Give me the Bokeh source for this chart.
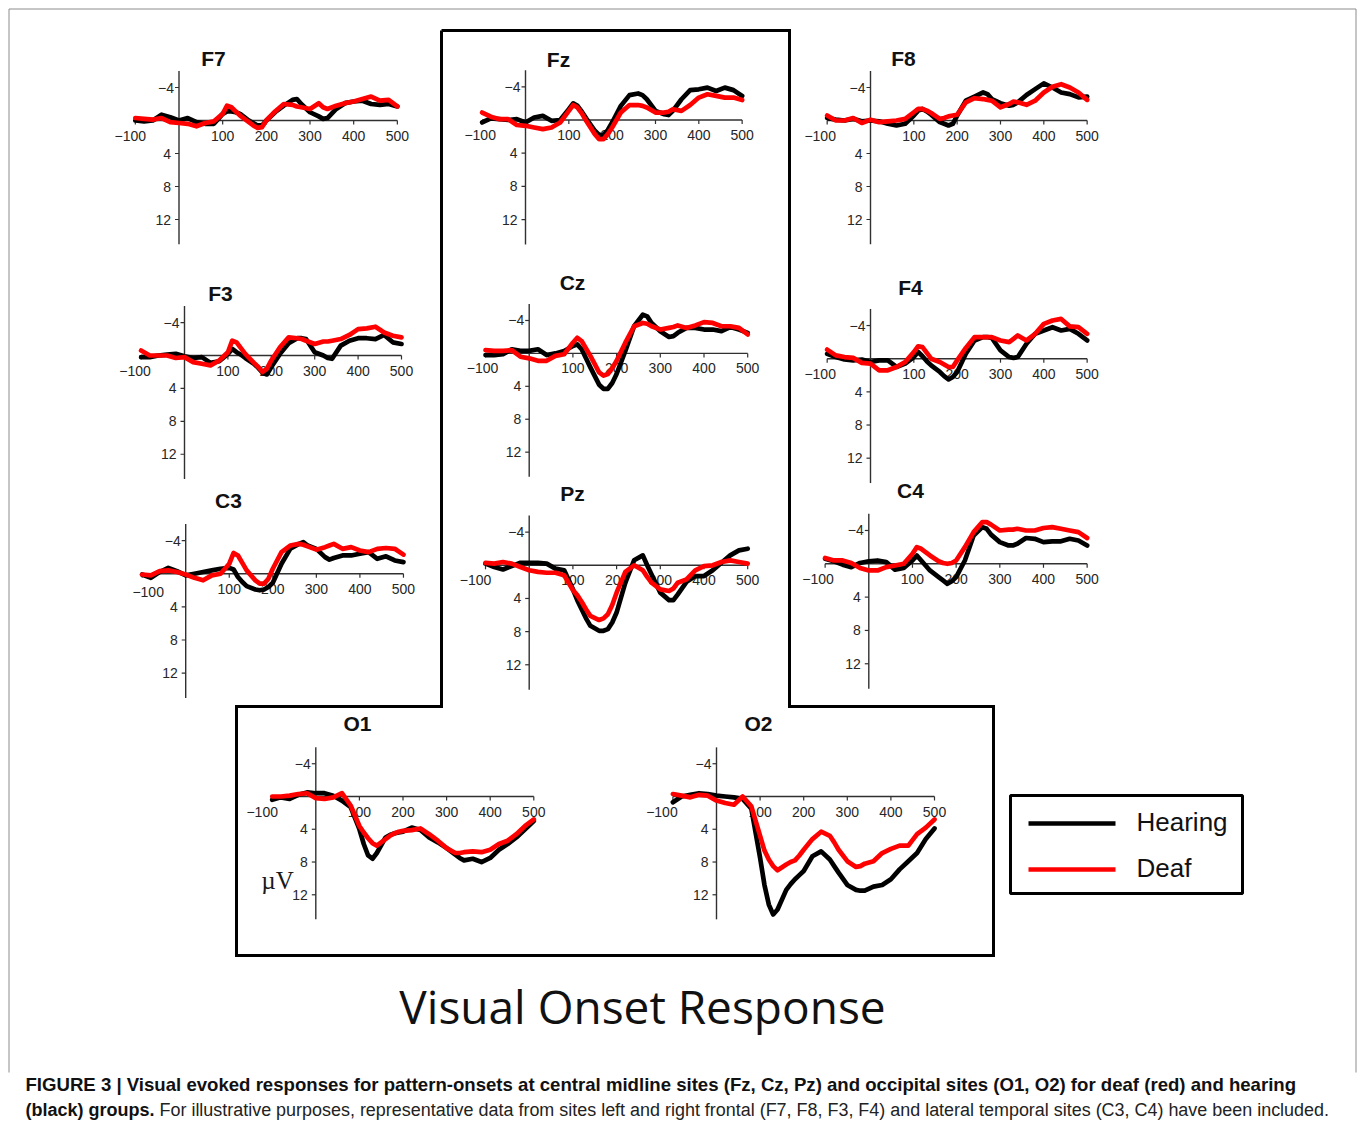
from bokeh.plotting import figure
from bokeh.models import Range1d
from bokeh.embed import file_html
from bokeh.resources import INLINE
from bokeh.core.properties import value

# ---------------- data (µV, positive plotted downward) ----------------
TIME_MS = [-100, -80, -60, -40, -20, 0, 20, 40, 60, 80,
           100, 110, 120, 130, 140, 160, 170, 180, 190, 200,
           220, 240, 260, 270, 280, 300, 320, 330, 340, 360,
           380, 400, 420, 440, 460, 480, 500]

F7_HEARING = [0, 0.1, 0, -0.7, -0.4, 0, -0.3, 0.2, 0.4, 0.4,
              -0.8, -1.1, -1.1, -1.0, -0.8, 0, 0.3, 0.6, 0.6, 0.0,
              -1.0, -1.8, -2.5, -2.6, -2.0, -1.0, -0.5, -0.2, -0.3, -1.4,
              -2.1, -2.3, -2.4, -2.0, -1.9, -2.0, -1.7]
F7_DEAF = [-0.3, -0.2, -0.1, -0.3, 0.2, 0.3, 0.4, 0.7, 0.3, 0.1,
           -0.8, -1.8, -1.6, -1.1, -0.6, 0.2, 0.6, 0.9, 0.8, 0.0,
           -1.1, -2.0, -1.9, -1.7, -1.6, -1.4, -2.1, -1.6, -1.4, -1.8,
           -2.1, -2.3, -2.6, -2.9, -2.4, -2.5, -1.7]

FZ_HEARING = [0.3, -0.2, -0.1, 0, -0.1, 0.3, -0.3, -0.5, 0.1, 0,
              -1.3, -2.0, -1.7, -1.0, -0.2, 1.3, 1.8, 1.8, 1.2, 0.3,
              -1.7, -3.0, -3.2, -3.0, -2.5, -1.1, -0.7, -0.6, -1.1, -2.5,
              -3.6, -3.7, -3.9, -3.5, -3.9, -3.6, -2.9]
FZ_DEAF = [-0.9, -0.4, -0.1, -0.1, 0.6, 0.7, 0.9, 1.1, 0.9, 0.3,
           -1.1, -1.8, -1.5, -0.8, 0.1, 1.7, 2.3, 2.3, 1.7, 0.9,
           -0.9, -1.8, -1.8, -1.7, -1.5, -0.9, -0.9, -1.0, -1.3, -1.1,
           -1.8, -2.7, -3.1, -2.9, -2.7, -2.7, -2.4]

F8_HEARING = [-0.3, -0.1, 0, -0.2, 0.1, 0, 0.1, 0.4, 0.6, 0.4,
              -0.6, -1.2, -1.4, -1.1, -0.7, 0.2, 0.4, 0.6, 0.4, -0.6,
              -2.4, -2.9, -3.4, -3.2, -2.6, -2.1, -1.8, -1.9, -2.2, -3.1,
              -3.8, -4.5, -4.0, -3.4, -3.2, -2.8, -2.9]
F8_DEAF = [-0.6, 0, 0, -0.3, 0.3, -0.1, 0.2, 0.1, 0, -0.2,
           -1.0, -1.4, -1.4, -1.2, -0.9, -0.2, -0.3, -0.5, -0.6, -0.7,
           -2.2, -2.7, -2.6, -2.5, -2.4, -1.6, -2.0, -2.3, -2.2, -1.9,
           -2.4, -3.4, -4.1, -4.4, -4.0, -3.4, -2.5]

F3_HEARING = [0.2, 0.2, 0, -0.1, -0.2, 0.1, 0.3, 0.2, 0.9, 0.7,
              -0.2, -0.8, -0.4, -0.1, 0.3, 1.0, 1.5, 2.1, 2.3, 1.4,
              -0.2, -1.5, -2.1, -2.1, -2.0, -0.4, 0, 0.3, 0.4, -1.2,
              -1.8, -2.1, -2.1, -2.0, -2.5, -1.6, -1.4]
F3_DEAF = [-0.6, 0, 0, 0, 0.3, 0.2, 0.8, 1.0, 1.2, 0.6,
           -0.4, -1.8, -1.6, -0.9, -0.2, 0.9, 1.4, 2.0, 1.6, 0.6,
           -1.0, -2.2, -2.1, -2.0, -1.8, -1.4, -1.7, -1.7, -1.8, -2.0,
           -2.5, -3.2, -3.3, -3.5, -2.8, -2.4, -2.2]

CZ_HEARING = [0.2, 0.2, 0.1, -0.5, -0.3, -0.3, -0.5, 0.2, 0, -0.3,
              -0.9, -1.1, -0.5, 0.6, 1.7, 3.8, 4.3, 4.3, 3.6, 2.5,
              -0.3, -3.3, -4.7, -4.5, -3.7, -2.7, -2.0, -2.1, -2.5, -3.1,
              -3.1, -2.9, -2.9, -2.7, -3.2, -2.9, -2.5]
CZ_DEAF = [-0.4, -0.3, -0.3, -0.4, 0.4, 0.6, 0.9, 0.9, 0.3, 0.1,
           -1.3, -1.9, -1.5, -0.6, 0.3, 2.3, 2.7, 2.5, 1.8, 0.9,
           -1.3, -3.3, -3.7, -3.6, -3.3, -2.9, -3.1, -3.2, -3.4, -3.1,
           -3.4, -3.8, -3.7, -3.3, -3.3, -3.1, -2.3]

F4_HEARING = [-0.6, -0.2, 0.1, 0.2, 0.1, 0.4, 0.2, 0.2, 1.0, 0.6,
              -0.2, -0.8, -0.3, 0.3, 0.8, 1.6, 2.1, 2.5, 2.2, 1.6,
              -0.6, -2.2, -2.6, -2.6, -2.5, -1.0, -0.2, -0.1, -0.2, -1.8,
              -3.0, -3.4, -3.8, -3.4, -3.6, -3.0, -2.2]
F4_DEAF = [-1.1, -0.4, -0.2, -0.1, 0.5, 0.6, 1.4, 1.4, 1.0, 0.4,
           -0.8, -1.5, -1.4, -0.7, 0, 0.4, 0.7, 1.0, 1.0, 0.2,
           -1.3, -2.6, -2.6, -2.6, -2.6, -2.2, -2.0, -2.4, -2.8, -2.2,
           -3.0, -4.2, -4.6, -4.8, -3.9, -3.8, -3.0]

C3_HEARING = [0.1, 0.5, -0.2, -0.7, -0.3, 0.2, 0, -0.2, -0.4, -0.6,
              -0.7, -0.5, 0.4, 1.0, 1.5, 1.9, 2.0, 1.9, 1.6, 1.1,
              -1.2, -3.0, -3.6, -3.8, -3.4, -3.0, -2.0, -1.7, -1.9, -2.2,
              -2.2, -2.4, -2.6, -1.8, -2.1, -1.6, -1.4]
C3_DEAF = [0.1, 0.2, -0.3, -0.4, -0.2, 0.1, 0.5, 0.8, 0.2, 0,
           -1.2, -2.5, -2.2, -1.3, -0.4, 0.8, 1.2, 1.2, 0.6, -0.6,
           -2.6, -3.4, -3.6, -3.5, -3.3, -2.9, -3.2, -3.4, -3.6, -3.0,
           -3.2, -2.8, -2.6, -3.0, -3.1, -3.0, -2.3]

PZ_HEARING = [-0.2, 0.2, 0.5, 0.1, -0.3, -0.3, -0.3, -0.2, 0.4, 0.6,
              2.9, 4.2, 5.3, 6.4, 7.3, 7.9, 7.9, 7.7, 6.9, 5.7,
              2.1, -0.6, -1.2, 0.0, 1.1, 3.3, 4.2, 4.2, 3.5, 2.0,
              1.3, 1.3, 0.6, -0.3, -1.2, -1.8, -2.0]
PZ_DEAF = [-0.3, -0.2, -0.4, -0.2, 0.2, 0.6, 0.8, 0.9, 0.9, 1.2,
           3.0, 3.6, 4.4, 5.3, 6.1, 6.6, 6.4, 5.9, 4.8, 3.3,
           0.8, 0.0, 0.6, 1.4, 2.1, 2.9, 3.1, 2.8, 2.1, 1.7,
           0.6, 0.1, 0.0, -0.4, -0.6, -0.4, -0.2]

C4_HEARING = [-0.6, -0.3, 0.1, 0.4, -0.1, -0.3, -0.4, -0.2, 0.7, 0.5,
              -0.4, -1.0, -0.4, 0.2, 0.8, 1.6, 2.0, 2.4, 2.1, 1.6,
              -0.4, -3.4, -4.4, -4.2, -3.5, -2.6, -2.2, -2.2, -2.4, -3.1,
              -3.0, -2.6, -2.7, -2.7, -3.0, -2.8, -2.2]
C4_DEAF = [-0.7, -0.4, -0.4, -0.1, 0.5, 0.8, 0.8, 0.4, 0.2, 0,
           -1.2, -2.0, -1.8, -1.4, -1.0, -0.3, -0.1, 0, -0.1, -0.4,
           -2.0, -3.8, -5.0, -5.0, -4.7, -4.0, -4.1, -4.1, -4.2, -4.0,
           -4.0, -4.3, -4.4, -4.2, -4.0, -3.8, -3.1]

O1_HEARING = [0.4, 0.1, 0.3, -0.2, -0.5, -0.4, -0.4, -0.1, 0.5, 1.3,
              4.0, 5.8, 7.2, 7.6, 6.9, 5.0, 4.7, 4.5, 4.4, 4.3,
              3.8, 4.1, 5.0, 5.3, 5.6, 6.3, 7.1, 7.5, 7.8, 7.6,
              8.0, 7.5, 6.5, 5.8, 5.0, 4.0, 3.0]
O1_DEAF = [0, 0, -0.1, -0.3, -0.4, 0.2, 0.3, 0.1, -0.4, 1.1,
           3.6, 4.4, 5.1, 5.7, 6.0, 5.2, 4.8, 4.5, 4.3, 4.2,
           4.1, 3.9, 4.6, 5.0, 5.4, 6.3, 6.9, 6.9, 6.8, 6.7,
           6.8, 6.5, 5.8, 5.4, 4.6, 3.6, 2.8]

O2_HEARING = [0.7, 0, -0.2, -0.4, -0.3, -0.1, 0, 0.1, 0.3, 1.5,
              7.5, 10.8, 13.2, 14.4, 13.8, 11.4, 10.7, 10.1, 9.6, 9.1,
              7.3, 6.7, 7.7, 8.5, 9.3, 10.8, 11.4, 11.5, 11.5, 11.0,
              10.8, 10.1, 8.9, 7.9, 6.9, 5.2, 3.9]
O2_DEAF = [-0.3, -0.1, 0.1, -0.2, -0.1, 0.5, 0.8, 1.0, 0.0, 1.2,
           4.8, 6.6, 7.7, 8.5, 9.0, 8.3, 8.0, 7.8, 7.2, 6.5,
           5.2, 4.3, 4.8, 5.6, 6.5, 7.9, 8.6, 8.5, 8.2, 7.9,
           6.9, 6.4, 6.0, 6.0, 4.6, 3.8, 2.8]

X_TICKS = [-100, 100, 200, 300, 400, 500]
X_TICK_LABELS = ["\u2212100", "100", "200", "300", "400", "500"]
Y_TICKS = [-4, 4, 8, 12]
Y_TICK_LABELS = ["\u22124", "4", "8", "12"]
X_AXIS_SPAN = [-100, 500]
Y_AXIS_SPAN = [-6, 15]
GROUPS = ["Hearing", "Deaf"]
GROUP_COLORS = ["#000000", "#ff0000"]

PANELS = [
    ("F7", F7_HEARING, F7_DEAF), ("Fz", FZ_HEARING, FZ_DEAF), ("F8", F8_HEARING, F8_DEAF),
    ("F3", F3_HEARING, F3_DEAF), ("Cz", CZ_HEARING, CZ_DEAF), ("F4", F4_HEARING, F4_DEAF),
    ("C3", C3_HEARING, C3_DEAF), ("Pz", PZ_HEARING, PZ_DEAF), ("C4", C4_HEARING, C4_DEAF),
    ("O1", O1_HEARING, O1_DEAF), ("O2", O2_HEARING, O2_DEAF),
]

# ---------------- layout (screen pixels) ----------------
# x0: pixel of t=0, s: px per ms, y0: pixel of 0 µV, k: px per µV, (tx, ty): title centre
LAYOUT = {
    "F7": dict(x0=178.5, s=0.4367, y0=120.0, k=8.25, tx=213, ty=58, ndx=-5, ndy=0),
    "Fz": dict(x0=525.0, s=0.4333, y0=119.5, k=8.30, tx=558, ty=59, ndx=-2, ndy=0),
    "F8": dict(x0=870.0, s=0.4333, y0=120.0, k=8.25, tx=903, ty=58, ndx=-7, ndy=0),
    "F3": dict(x0=184.0, s=0.4340, y0=355.0, k=8.23, tx=220, ty=293, ndx=-6, ndy=0),
    "Cz": dict(x0=528.7, s=0.4370, y0=352.9, k=8.23, tx=572, ty=282, ndx=-3, ndy=0),
    "F4": dict(x0=870.0, s=0.4333, y0=358.2, k=8.29, tx=910, ty=287, ndx=-7, ndy=0),
    "C3": dict(x0=185.2, s=0.4355, y0=573.2, k=8.29, tx=228, ty=500, ndx=6, ndy=3),
    "Pz": dict(x0=528.7, s=0.4370, y0=564.8, k=8.29, tx=572, ty=493, ndx=-10, ndy=0),
    "C4": dict(x0=868.3, s=0.4367, y0=563.3, k=8.33, tx=910, ty=490, ndx=-7, ndy=0),
    "O1": dict(x0=315.3, s=0.4360, y0=796.0, k=8.19, tx=357, ty=723, ndx=-10, ndy=0),
    "O2": dict(x0=716.0, s=0.4360, y0=796.0, k=8.19, tx=758, ty=723, ndx=-11, ndy=0),
}

W, H = 1358, 1122
OX, OY = 0, 0   # canvas sits at the page's top-left corner
SANS = value("Liberation Sans")

p = figure(width=W, height=H, x_range=Range1d(OX, OX + W), y_range=Range1d(OY + H, OY),
           x_axis_type=None, y_axis_type=None, toolbar_location=None, output_backend="svg",
           title=None, min_border=0, outline_line_color=None,
           background_fill_color="white", border_fill_color="white")
p.xgrid.visible = False
p.ygrid.visible = False

xr, yr = {}, {}
for name, _, _ in PANELS:
    L = LAYOUT[name]
    xr[name] = Range1d((OX - L["x0"]) / L["s"], (OX + W - L["x0"]) / L["s"])
    yr[name] = Range1d((OY + H - L["y0"]) / L["k"], (OY - L["y0"]) / L["k"])
p.extra_x_ranges = xr
p.extra_y_ranges = yr

# outer thin border (left, top, right)
p.line([8.5, 8.5, 1355.5, 1355.5], [1072, 8.5, 8.5, 1072], line_color="#8c8c8c", line_width=1)

for name, hear, deaf in PANELS:
    L = LAYOUT[name]
    kw = dict(x_range_name=name, y_range_name=name)
    # tick labels
    xo = [L["ndx"] if t < 0 else 0 for t in X_TICKS]
    yo = [15 + (L["ndy"] if t < 0 else 0) for t in X_TICKS]
    p.text(x=X_TICKS, y=[0] * len(X_TICKS), text=X_TICK_LABELS, x_offset=xo, y_offset=yo,
           text_font=SANS, text_font_size="14px", text_color="#262626",
           text_align="center", text_baseline="middle", **kw)
    p.text(x=[0] * len(Y_TICKS), y=Y_TICKS, text=Y_TICK_LABELS,
           x_offset=[-5 if v < 0 else -8 for v in Y_TICKS],
           text_font=SANS, text_font_size="14px", text_color="#262626",
           text_align="right", text_baseline="middle", **kw)
    # axes
    p.line(X_AXIS_SPAN, [0, 0], line_color="#303030", line_width=1.4, **kw)
    p.line([0, 0], Y_AXIS_SPAN, line_color="#303030", line_width=1.4, **kw)
    p.segment(x0=X_TICKS, y0=[0] * len(X_TICKS), x1=X_TICKS, y1=[4 / L["k"]] * len(X_TICKS),
              line_color="#303030", line_width=1.2, **kw)
    p.segment(x0=[0] * len(Y_TICKS), y0=Y_TICKS, x1=[-4 / L["s"]] * len(Y_TICKS), y1=Y_TICKS,
              line_color="#303030", line_width=1.2, **kw)
    # curves
    for series, col in zip((hear, deaf), GROUP_COLORS):
        p.line(TIME_MS, series, line_color=col, line_width=4.7, line_join="round",
               line_cap="round", **kw)
    # title
    p.text(x=[L["tx"]], y=[L["ty"]], text=[name], text_font=SANS, text_font_style="bold",
           text_font_size="21px", text_color="#111111", text_align="center",
           text_baseline="middle")

# µV label
p.text(x=[277], y=[880], text=["\u00b5V"], text_font=value("Liberation Serif"),
       text_font_size="25px", text_color="#1a1a1a", text_align="center", text_baseline="middle")

# T-shaped frame
FRAME_X = [441, 789, 789, 993, 993, 236, 236, 441, 441]
FRAME_Y = [30, 30, 706, 706, 955, 955, 706, 706, 30]
p.line(FRAME_X, FRAME_Y, line_color="#000000", line_width=3, line_join="miter")

# legend
p.quad(left=[1010], right=[1242], top=[795], bottom=[893], fill_color=None,
       line_color="#000000", line_width=3)
for i, (g, col) in enumerate(zip(GROUPS, GROUP_COLORS)):
    yy = 823 + 46 * i
    p.line([1028, 1115], [yy, yy], line_color=col, line_width=4.5)
    p.text(x=[1136], y=[yy - 2], text=[g], text_font=SANS, text_font_size="26px",
           text_color="#111111", text_align="left", text_baseline="middle")

# big title
p.text(x=[642], y=[1005], text=["Visual Onset Response"], text_font=value("Open Sans"),
       text_font_size="46px", text_color="#111111", text_align="center",
       text_baseline="middle")

# caption
p.text(x=[25], y=[1084], text=["FIGURE 3 | Visual evoked responses for pattern-onsets at central midline sites (Fz, Cz, Pz) and occipital sites (O1, O2) for deaf (red) and hearing"],
       text_font=SANS, text_font_style="bold", text_font_size="18.6px", text_color="#111111",
       text_align="left", text_baseline="middle")
p.text(x=[25], y=[1109], text=["(black) groups."], text_font=SANS, text_font_style="bold",
       text_font_size="18px", text_color="#111111", text_align="left", text_baseline="middle")
p.text(x=[159], y=[1109], text=["For illustrative purposes, representative data from sites left and right frontal (F7, F8, F3, F4) and lateral temporal sites (C3, C4) have been included."],
       text_font=SANS, text_font_size="17.95px", text_color="#222222",
       text_align="left", text_baseline="middle")

open("out.html", "w").write(file_html(p, INLINE))
